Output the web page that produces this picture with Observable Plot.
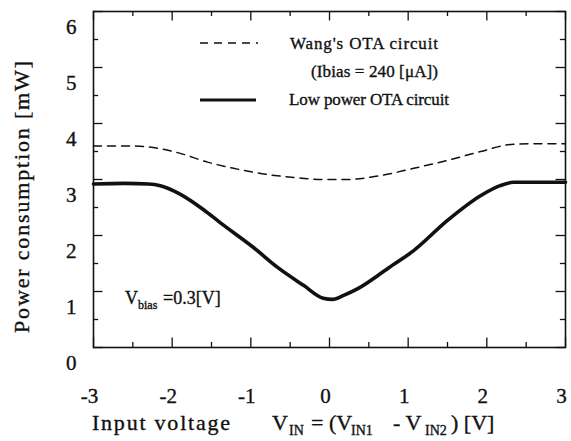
<!DOCTYPE html>
<html><head><meta charset="utf-8">
<script src="https://cdn.jsdelivr.net/npm/d3@7"></script>
<script src="https://cdn.jsdelivr.net/npm/@observablehq/plot@0.6"></script>
<style>
body{margin:0;background:#fff}
svg{display:block}
#chart svg, #chart svg text { font-family: "Liberation Serif", "Times New Roman", "DejaVu Serif", serif !important; }
#chart svg text { stroke: #111; stroke-width: 0.35px; }
</style>
</head><body><div id="chart"></div>
<script>
// ---- data ----
const xTicks = [-3, -2, -1, 0, 1, 2, 3];
const xTickLabels = ["-3", "-2", "-1", "0", "1", "2", "3"];
const xMinor = [-2.5, -1.5, -0.5, 0.5, 1.5, 2.5];
const yTicks = [0, 1, 2, 3, 4, 5, 6];
const yTickLabels = ["0", "1", "2", "3", "4", "5", "6"];
const yMinor = [0.5, 1.5, 2.5, 3.5, 4.5, 5.5];

// Low power OTA circuit (solid)
const vinLow   = [-3, -2.6, -2.3, -2.15, -1.9, -1.6, -1.39, -0.97, -0.66, -0.33, -0.08, 0.04, 0.18, 0.36, 0.62, 0.74, 1.07, 1.5, 1.92, 2.17, 2.34, 2.6, 3];
const powerLow = [2.92, 2.93, 2.92, 2.89, 2.74, 2.46, 2.23, 1.79, 1.43, 1.11, 0.88, 0.86, 0.93, 1.05, 1.29, 1.41, 1.73, 2.27, 2.71, 2.89, 2.95, 2.95, 2.95];

// Wang's OTA circuit (dashed)
const vinWang   = [-3, -2.6, -2.3, -1.93, -1.55, -1.22, -0.84, -0.41, -0.08, 0.2, 0.65, 1.07, 1.5, 1.92, 2.34, 2.7, 3];
const powerWang = [3.6, 3.6, 3.58, 3.48, 3.31, 3.2, 3.1, 3.03, 3.0, 3.0, 3.07, 3.2, 3.34, 3.5, 3.63, 3.64, 3.64];

const lowRows = vinLow.map((v, i) => ({v, p: powerLow[i]}));
const wangRows = vinWang.map((v, i) => ({v, p: powerWang[i]}));

const ink = "#111";
const serif = "Liberation Serif, Times New Roman, DejaVu Serif, serif";
const majX = 0.17, minX = 0.09;   // tick lengths (y units) on x-edges
const majY = 0.12, minY = 0.065;  // tick lengths (x units) on y-edges

const plot = Plot.plot({
  width: 571,
  height: 441,
  marginLeft: 93,
  marginRight: 6,
  marginTop: 11,
  marginBottom: 94,
  x: {domain: [-3, 3]},
  y: {domain: [0, 6]},
  style: {background: "#fff", color: ink},
  marks: [
    Plot.frame({stroke: ink, strokeWidth: 1.6}),
    Plot.ruleX(xTicks, {x: d => d, y1: 0, y2: majX, stroke: ink, strokeWidth: 1.3}),
    Plot.ruleX(xMinor, {x: d => d, y1: 0, y2: minX, stroke: ink, strokeWidth: 1.3}),
    Plot.ruleX(xTicks, {x: d => d, y1: 6 - majX, y2: 6, stroke: ink, strokeWidth: 1.3}),
    Plot.ruleX(xMinor, {x: d => d, y1: 6 - minX, y2: 6, stroke: ink, strokeWidth: 1.3}),
    Plot.ruleY(yTicks, {y: d => d, x1: -3, x2: -3 + majY, stroke: ink, strokeWidth: 1.3}),
    Plot.ruleY(yMinor, {y: d => d, x1: -3, x2: -3 + minY, stroke: ink, strokeWidth: 1.3}),
    Plot.ruleY(yTicks, {y: d => d, x1: 3 - majY, x2: 3, stroke: ink, strokeWidth: 1.3}),
    Plot.ruleY(yMinor, {y: d => d, x1: 3 - minY, x2: 3, stroke: ink, strokeWidth: 1.3}),
    Plot.axisX(xTicks, {anchor: "bottom", tickSize: 0, tickPadding: 41, dx: -4, fontSize: 21, tickFormat: (d, i) => xTickLabels[i], label: null, fill: ink}),
    Plot.axisY(yTicks, {anchor: "left", tickSize: 0, tickPadding: 17, dy: 16, fontSize: 21, tickFormat: (d, i) => yTickLabels[i], label: null, fill: ink}),
    Plot.line(wangRows, {x: "v", y: "p", stroke: ink, strokeWidth: 1.5, strokeDasharray: "8,6", curve: "monotone-x"}),
    Plot.line(lowRows, {x: "v", y: "p", stroke: ink, strokeWidth: 3.6, curve: "monotone-x"})
  ]
});

document.getElementById("chart").appendChild(plot);

// ---- annotations (text & legend) ----
const svg = d3.select(plot);
const g = svg.append("g").attr("fill", ink).attr("font-family", serif).attr("text-anchor", "start");

// y-axis title
g.append("text")
  .attr("transform", "translate(29,197) rotate(-90)")
  .attr("text-anchor", "middle")
  .attr("font-size", 22)
  .attr("textLength", 272).attr("lengthAdjust", "spacing")
  .text("Power consumption [mW]");

// x-axis title with subscripts
const xt = g.append("text").attr("y", 430).attr("font-size", 22);
xt.append("tspan").attr("x", 92).attr("textLength", 138).attr("lengthAdjust", "spacing").text("Input voltage");
xt.append("tspan").attr("x", 272).text("V");
xt.append("tspan").attr("x", 289).attr("dy", 5).attr("font-size", 14).text("IN");
xt.append("tspan").attr("x", 311).attr("dy", -5).text("= (V");
xt.append("tspan").attr("x", 351).attr("dy", 5).attr("font-size", 14).text("IN1");
xt.append("tspan").attr("x", 393).attr("dy", -5).text("- V");
xt.append("tspan").attr("x", 425).attr("dy", 5).attr("font-size", 14).text("IN2");
xt.append("tspan").attr("x", 451).attr("dy", -5).text(") [V]");

// Vbias annotation
const vb = g.append("text").attr("y", 304).attr("font-size", 18);
vb.append("tspan").attr("x", 125).text("V");
vb.append("tspan").attr("x", 138).attr("dy", 5).attr("font-size", 12).text("bias");
vb.append("tspan").attr("x", 163).attr("dy", -5).text("=0.3[V]");

// legend
svg.append("line").attr("x1", 200).attr("x2", 258).attr("y1", 43).attr("y2", 43)
  .attr("stroke", ink).attr("stroke-width", 1.5).attr("stroke-dasharray", "8,6");
svg.append("line").attr("x1", 200).attr("x2", 256).attr("y1", 100).attr("y2", 100)
  .attr("stroke", ink).attr("stroke-width", 3.2);
g.append("text").attr("x", 290).attr("y", 49).attr("font-size", 17)
  .attr("textLength", 148).attr("lengthAdjust", "spacing").text("Wang's OTA circuit");
g.append("text").attr("x", 311).attr("y", 77).attr("font-size", 17)
  .attr("textLength", 127).attr("lengthAdjust", "spacing").text("(Ibias = 240 [μA])");
g.append("text").attr("x", 289).attr("y", 105).attr("font-size", 17)
  .attr("textLength", 160).attr("lengthAdjust", "spacing").text("Low power OTA circuit");
</script>
</body></html>
